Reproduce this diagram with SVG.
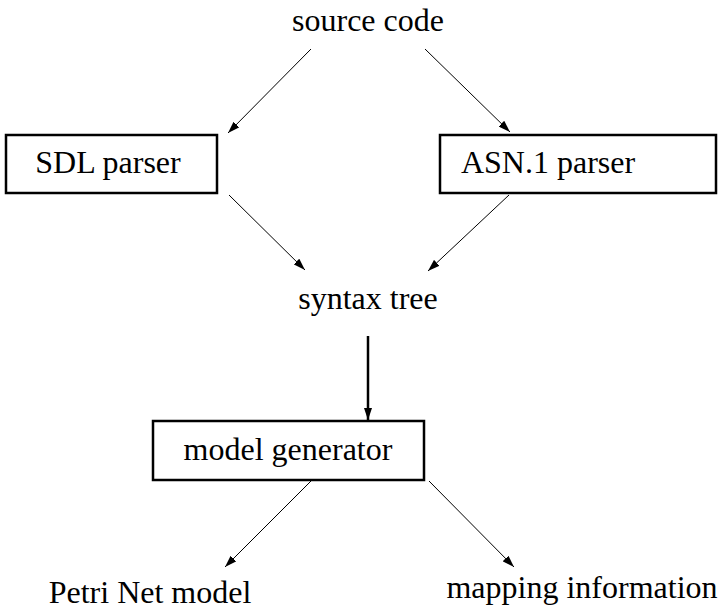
<svg xmlns="http://www.w3.org/2000/svg" width="720" height="612" viewBox="0 0 720 612">
<style>
text{font-family:'Liberation Serif','Times New Roman',serif;font-size:32px;fill:#000;text-anchor:middle}
.box{fill:#fff;stroke:#000;stroke-width:2.5}
.c{stroke:#000;stroke-width:1;fill:none}
.thick{stroke-width:2.5}
</style>
<defs>
<marker id="ah" viewBox="0 0 12 8" refX="12" refY="4" markerWidth="12" markerHeight="8" markerUnits="userSpaceOnUse" orient="auto">
<path d="M0,0 L12,4 L0,8 Z" fill="#000"/>
</marker>
</defs>
<rect width="720" height="612" fill="#fff"/>
<g id="connectors">
<line class="c" x1="311" y1="49" x2="228" y2="133" marker-end="url(#ah)"/>
<line class="c" x1="425" y1="49" x2="510" y2="132" marker-end="url(#ah)"/>
<line class="c" x1="229" y1="195" x2="305" y2="270" marker-end="url(#ah)"/>
<line class="c" x1="509" y1="195" x2="428" y2="271" marker-end="url(#ah)"/>
<line class="c thick" x1="368" y1="336" x2="368" y2="420" marker-end="url(#ah)"/>
<line class="c" x1="311" y1="481" x2="225" y2="567" marker-end="url(#ah)"/>
<line class="c" x1="429" y1="481" x2="514" y2="567" marker-end="url(#ah)"/>
</g>
<g id="source-code"><text x="368" y="31">source code</text></g>
<g id="sdl-parser">
<rect class="box" x="6" y="135" width="211" height="58"/>
<text x="108" y="173">SDL parser</text>
</g>
<g id="asn1-parser">
<rect class="box" x="440" y="135" width="276" height="58"/>
<text x="548" y="173">ASN.1 parser</text>
</g>
<g id="syntax-tree"><text x="368" y="309">syntax tree</text></g>
<g id="model-generator">
<rect class="box" x="153" y="421" width="271" height="59"/>
<text x="288" y="460">model generator</text>
</g>
<g id="petri-net-model"><text x="150" y="603">Petri Net model</text></g>
<g id="mapping-information"><text x="582" y="598">mapping information</text></g>
</svg>
